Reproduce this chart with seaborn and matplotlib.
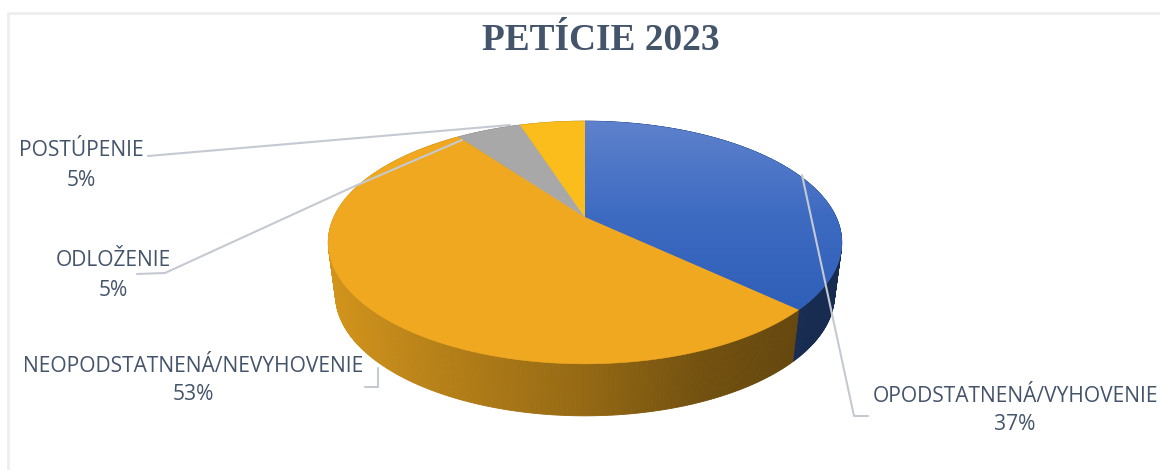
import numpy as np
import pandas as pd
import matplotlib
matplotlib.use("Agg")
import matplotlib.pyplot as plt
from matplotlib.patches import Polygon
from matplotlib.colors import LinearSegmentedColormap, to_rgb
import seaborn as sns

categories = ["OPODSTATNENÁ/VYHOVENIE", "NEOPODSTATNENÁ/NEVYHOVENIE", "ODLOŽENIE", "POSTÚPENIE"]
values = [37, 53, 5, 5]
title = "PETÍCIE 2023"

sns.set_theme(style="white")
palette = sns.color_palette(["#3a67c0", "#efa81f", "#a8a8a8", "#fbbd1c"])
df = pd.DataFrame({"category": categories, "value": values})

INK = "#44546a"
LEADER = "#c5c9d1"
CX, CY, RX, RY, K = 585, 217, 251, 116, 0.21
DEPTH = 52


def project(theta, drop=0.0):
    u, v = np.sin(theta), np.cos(theta)
    s = 1 / (1 + K * v)
    shrink = 1 - 0.028 * drop
    return CX + RX * u * s * shrink, CY - RY * v * s + DEPTH * drop


def shade(x):
    return np.interp(x, [328, 400, 585, 700, 800, 843], [0.88, 0.80, 0.62, 0.48, 0.42, 0.42])


fig = plt.figure(figsize=(11.6, 4.7), dpi=100)
ax = fig.add_axes([0, 0, 1, 1])
ax.set_xlim(0, 1160)
ax.set_ylim(470, 0)
ax.axis("off")

ax.plot([8, 8, 1160], [470, 13, 13], color="#eeeeee", lw=2, zorder=0)

edges = np.cumsum([0] + list(df["value"])) / df["value"].sum() * 2 * np.pi

# side wall
for i in range(len(df)):
    n = max(int((edges[i + 1] - edges[i]) / 0.008), 2)
    th = np.linspace(edges[i], edges[i + 1], n + 1)
    base = np.array(to_rgb(palette[i]))
    for a, b in zip(th[:-1], th[1:]):
        xa, ya = project(a)
        xb, yb = project(b)
        xc, yc = project(b, 1)
        xd, yd = project(a, 1)
        col = base * shade((xa + xb) / 2)
        ax.add_patch(Polygon([(xa, ya), (xb, yb), (xc, yc), (xd, yd)], closed=True,
                             facecolor=col, edgecolor=col, lw=0.6, zorder=2))

# top face
for i in range(len(df)):
    th = np.linspace(edges[i], edges[i + 1], 200)
    x, y = project(th)
    pts = np.column_stack([np.r_[CX, x], np.r_[CY, y]])
    patch = Polygon(pts, closed=True, facecolor=palette[i], edgecolor=palette[i], lw=0.4, zorder=3)
    ax.add_patch(patch)
    if i == 0:
        cmap = LinearSegmentedColormap.from_list("blue", ["#5f82cc", "#3e6bc2", "#2f5fb8"])
        im = ax.imshow(np.linspace(0, 1, 256)[:, None], cmap=cmap, aspect="auto",
                       extent=(CX, 850, 310, 118), zorder=3.1)
        im.set_clip_path(patch)
ax.set_xlim(0, 1160)
ax.set_ylim(470, 0)

# leader lines
leaders = [
    ([148, 510], [156, 125]),
    ([137, 165, 355, 462], [274, 273, 186, 140]),
    ([365, 378, 378], [387, 387, 368]),
    ([868, 854, 802], [416, 416, 175]),
]
for lx, ly in leaders:
    ax.plot(lx, ly, color=LEADER, lw=1.5, zorder=4, solid_capstyle="round")

# labels
label_pos = {
    "POSTÚPENIE": (81, 150, 180),
    "ODLOŽENIE": (113, 261, 290),
    "NEOPODSTATNENÁ/NEVYHOVENIE": (193, 367, 395),
    "OPODSTATNENÁ/VYHOVENIE": (1015, 396, 425),
}
for cat, val in zip(df["category"], df["value"]):
    x, y1, y2 = label_pos[cat]
    ax.text(x, y1, cat, ha="center", va="center", color=INK, fontsize=15.1,
            family="Open Sans", zorder=5)
    ax.text(x, y2, f"{val}%", ha="center", va="center", color=INK, fontsize=15.1,
            family="Open Sans", zorder=5)

ax.text(601, 40, title, ha="center", va="center", color=INK, fontsize=26.9,
        fontweight="bold", family="Liberation Serif", zorder=5)

fig.savefig("out.png", dpi=100)
